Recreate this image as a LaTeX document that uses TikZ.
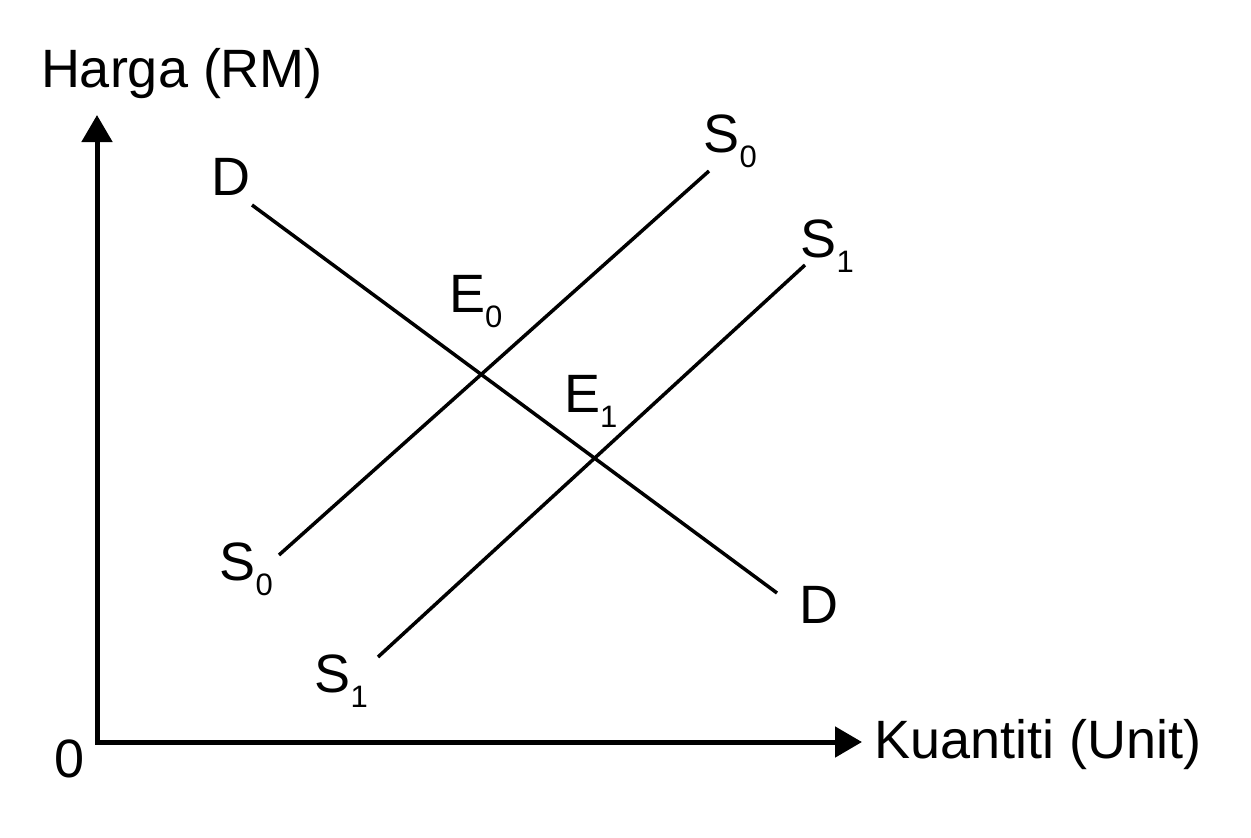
\documentclass[tikz,border=0pt]{standalone}
\usepackage{fontspec}
\setmainfont{Liberation Sans}
\usetikzlibrary{arrows.meta}
\newcommand{\lblsub}[1]{\raisebox{-7.75bp}{\fontsize{15.5bp}{15.5bp}\selectfont #1}}
\begin{document}
\begin{tikzpicture}[x=0.5bp,y=-0.5bp,
  lbl/.style={anchor=base west,inner sep=0pt,outer sep=0pt,font=\fontsize{27bp}{30bp}\selectfont},
  axisline/.style={line width=2.5bp,line join=miter,{Triangle[length=13.5bp,width=15bp]}-{Triangle[length=13.5bp,width=15bp]}},
  curveline/.style={line width=1.75bp,line cap=butt}]
\useasboundingbox (0,0) rectangle (1251,837);
% axes
\coordinate (ytip) at (97,115);
\coordinate (origin) at (97,742);
\coordinate (xtip) at (862,742);
\draw[axisline] (ytip) -- (origin) -- (xtip);
% curves
\coordinate (Dtop) at (252,205);
\coordinate (Dbot) at (777,593);
\coordinate (S0bot) at (279,555);
\coordinate (S0top) at (709,171);
\coordinate (S1bot) at (378,657);
\coordinate (S1top) at (805,265);
\draw[curveline] (Dtop) -- (Dbot);
\draw[curveline] (S0bot) -- (S0top);
\draw[curveline] (S1bot) -- (S1top);
% labels
\node[lbl] (harga) at (41,87) {Harga (RM)};
\node[lbl] (kuantiti) at (874,758) {Kuantiti (Unit)};
\node[lbl] (zero) at (54,777) {0};
\node[lbl] (Dl1) at (211,195) {D};
\node[lbl] (Dl2) at (799,623) {D};
\node[lbl] (S0l1) at (703.5,152) {S\lblsub{0}};
\node[lbl] (S1l1) at (800.5,257) {S\lblsub{1}};
\node[lbl] (S0l2) at (219.5,580) {S\lblsub{0}};
\node[lbl] (S1l2) at (314.5,692) {S\lblsub{1}};
\node[lbl] (E0l) at (449,312) {E\lblsub{0}};
\node[lbl] (E1l) at (564,412) {E\lblsub{1}};
\end{tikzpicture}
\end{document}
